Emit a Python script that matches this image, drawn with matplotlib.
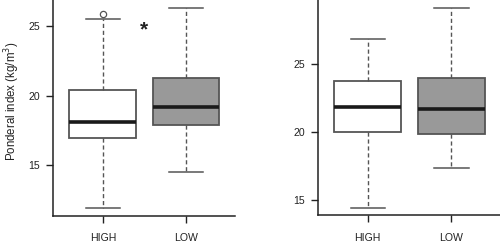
import matplotlib
matplotlib.use("Agg")
import matplotlib.pyplot as plt

plt.rcParams['font.family'] = ['Liberation Sans', 'DejaVu Sans']

categories = ["HIGH", "LOW"]

# Left panel box stats
left_whislo = [11.9, 14.5]
left_q1 = [16.93, 17.86]
left_med = [18.08, 19.18]
left_q3 = [20.38, 21.24]
left_whishi = [25.48, 26.26]
left_fliers = [[25.86], []]

# Right panel box stats
right_whislo = [14.43, 17.38]
right_q1 = [20.0, 19.88]
right_med = [21.84, 21.72]
right_q3 = [23.77, 23.99]
right_whishi = [26.84, 29.13]
right_fliers = [[], []]

left_yticks = [15, 20, 25]
right_yticks = [15, 20, 25]
ylabel = "Ponderal index (kg/m$^3$)"
star_pos = (1.49, 24.7)

box_faces = ["white", "#999999"]
edge_col = "#555555"

fig = plt.figure(figsize=(5.0, 2.43), dpi=100)
ax1 = fig.add_axes([53/500, 27/243, 182/500, 216/243])
ax2 = fig.add_axes([318.3/500, 27.7/243, 181.7/500, 215.3/243])


def make_stats(wl, q1, med, q3, wh, fl):
    stats = []
    for i in range(len(categories)):
        stats.append(dict(whislo=wl[i], q1=q1[i], med=med[i], q3=q3[i],
                          whishi=wh[i], fliers=fl[i], label=categories[i]))
    return stats


def draw(ax, stats, ylim, xlim, yticks):
    bp = ax.bxp(stats, positions=[1, 2], widths=0.805, patch_artist=True,
                showfliers=True, manage_ticks=False,
                boxprops=dict(edgecolor=edge_col, linewidth=1.3),
                medianprops=dict(color="#1a1a1a", linewidth=2.6, solid_capstyle='butt'),
                whiskerprops=dict(color=edge_col, linewidth=1.0, linestyle=(0, (3, 2))),
                capprops=dict(color=edge_col, linewidth=1.1),
                flierprops=dict(marker='o', markersize=4.5, markerfacecolor='none',
                                markeredgecolor=edge_col, markeredgewidth=0.9))
    for patch, fc in zip(bp['boxes'], box_faces):
        patch.set_facecolor(fc)
    for cap in bp['caps']:
        x = cap.get_xdata()
        c = (x[0] + x[1]) / 2
        cap.set_xdata([c - 0.205, c + 0.205])
    ax.set_xlim(*xlim)
    ax.set_ylim(*ylim)
    ax.set_xticks([1, 2])
    ax.set_xticklabels(categories)
    ax.set_yticks(yticks)
    for s in ['top', 'right']:
        ax.spines[s].set_visible(False)
    for s in ['left', 'bottom']:
        ax.spines[s].set_linewidth(1.1)
        ax.spines[s].set_color("#222222")
    ax.tick_params(axis='both', length=5, width=1.0, color="#222222",
                   labelsize=7.6, labelcolor="#222222")
    ax.tick_params(axis='y', pad=4.5)
    ax.tick_params(axis='x', pad=7.5)


draw(ax1, make_stats(left_whislo, left_q1, left_med, left_q3, left_whishi, left_fliers),
     (11.34, 26.87), (0.40, 2.59), left_yticks)
draw(ax2, make_stats(right_whislo, right_q1, right_med, right_q3, right_whishi, right_fliers),
     (13.87, 29.74), (0.41, 2.58), right_yticks)

fig.text(12/500, 1 - 101/243, ylabel, fontsize=8.3, color="#222222",
         rotation=90, ha='center', va='center')
ax1.text(star_pos[0], star_pos[1], "*", fontsize=15, fontweight='bold',
         ha='center', va='center', color="#222222")

fig.savefig("out.png", dpi=100)
